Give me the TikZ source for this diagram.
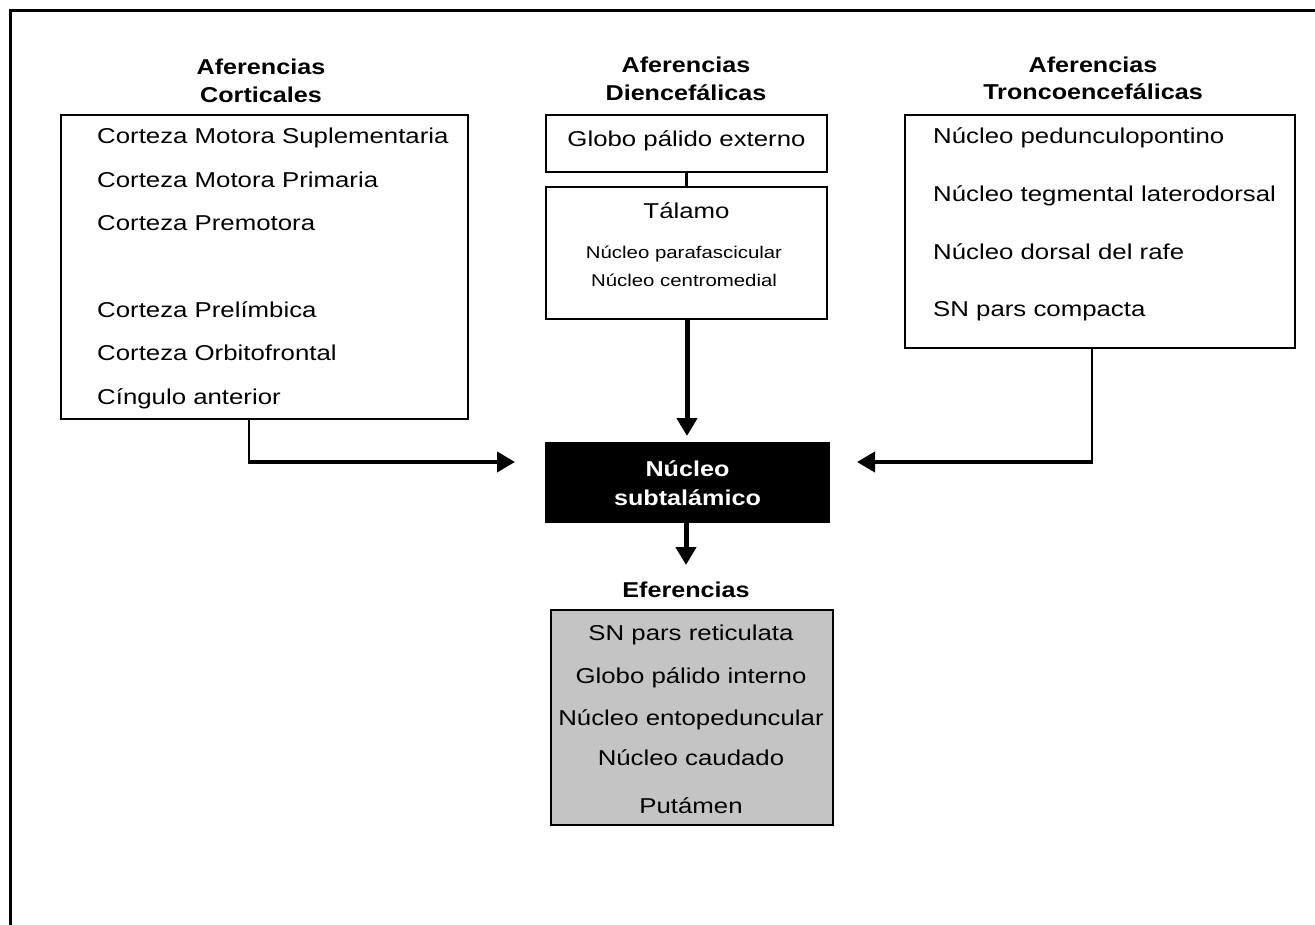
\documentclass[tikz,border=0pt]{standalone}
\usepackage{fontspec}
\setmainfont{Liberation Sans}[FakeStretch=1.2, BoldFeatures={FakeStretch=1.17}]
\usetikzlibrary{arrows.meta}
\definecolor{effgray}{RGB}{196,196,196}
\tikzset{
  box/.style={draw=black, line width=2pt, rectangle, inner sep=0pt},
  txt/.style={inner sep=0pt, font=\fontsize{21.5}{24}\selectfont},
  smalltxt/.style={inner sep=0pt, font=\fontsize{17}{19}\selectfont},
  head/.style={inner sep=0pt, font=\fontsize{21.5}{24}\selectfont\bfseries},
  thinlink/.style={line width=2.2pt},
  thicklink/.style={line width=5pt, -{Triangle[width=20pt,length=18pt]}},
  sidelink/.style={line width=4pt, -{Triangle[width=20pt,length=18pt]}},
}
\begin{document}
\begin{tikzpicture}[x=1pt,y=-1pt]
\useasboundingbox (0,0) rectangle (1315,925);
% outer frame (left and top edges)
\draw[line width=3pt] (10,925) -- (10,11) -- (1315,11);

% headings
\node[head, anchor=base] (hc1) at (261,75) {Aferencias};
\node[head, anchor=base] (hc2) at (261,103) {Corticales};
\node[head, anchor=base] (hd1) at (686,73) {Aferencias};
\node[head, anchor=base] (hd2) at (686,101) {Diencefálicas};
\node[head, anchor=base] (ht1) at (1093,73) {Aferencias};
\node[head, anchor=base] (ht2) at (1093,100) {Troncoencefálicas};

% cortical box
\node[box, minimum width=407pt, minimum height=304pt] (cort) at (264.5,267) {};
\node[txt, anchor=base west] (c1) at (97,144) {Corteza Motora Suplementaria};
\node[txt, anchor=base west] (c2) at (97,188) {Corteza Motora Primaria};
\node[txt, anchor=base west] (c3) at (97,231) {Corteza Premotora};
\node[txt, anchor=base west] (c4) at (97,318) {Corteza Prelímbica};
\node[txt, anchor=base west] (c5) at (97,361) {Corteza Orbitofrontal};
\node[txt, anchor=base west] (c6) at (97,404) {Cíngulo anterior};

% diencephalic boxes
\node[box, minimum width=281pt, minimum height=57pt] (gpe) at (686.5,143.5) {};
\node[txt, anchor=base] (gpet) at (686.5,147) {Globo pálido externo};
\node[box, minimum width=281pt, minimum height=132pt] (tal) at (686.5,253) {};
\node[txt, anchor=base] (talt) at (686.5,219) {Tálamo};
\node[smalltxt, anchor=base] (tal1) at (684,259) {Núcleo parafascicular};
\node[smalltxt, anchor=base] (tal2) at (684,287) {Núcleo centromedial};

% brainstem box
\node[box, minimum width=390pt, minimum height=233pt] (tronco) at (1100,231.5) {};
\node[txt, anchor=base west] (t1) at (933,144) {Núcleo pedunculopontino};
\node[txt, anchor=base west] (t2) at (933,202) {Núcleo tegmental laterodorsal};
\node[txt, anchor=base west] (t3) at (933,260) {Núcleo dorsal del rafe};
\node[txt, anchor=base west] (t4) at (933,317) {SN pars compacta};

% subthalamic nucleus
\node[box, fill=black, minimum width=283pt, minimum height=79pt] (stn) at (687.5,482.5) {};
\node[head, text=white, anchor=base] (stn1) at (687.5,476) {Núcleo};
\node[head, text=white, anchor=base] (stn2) at (687.5,505) {subtalámico};

% efferents
\node[head, anchor=base] (eft) at (686,597) {Eferencias};
\node[box, fill=effgray, minimum width=282pt, minimum height=215pt] (efer) at (692,717.5) {};
\node[txt, anchor=base] (e1) at (691,640) {SN pars reticulata};
\node[txt, anchor=base] (e2) at (691,683) {Globo pálido interno};
\node[txt, anchor=base] (e3) at (691,725) {Núcleo entopeduncular};
\node[txt, anchor=base] (e4) at (691,765) {Núcleo caudado};
\node[txt, anchor=base] (e5) at (691,813) {Putámen};

% connectors
\coordinate (lc) at (249,462);
\coordinate (ltip) at (515,462);
\coordinate (rc) at (1092,462);
\coordinate (rtip) at (857,462);
\coordinate (ttip) at (687,436);
\coordinate (dtip) at (686,565);

\draw[thinlink] (gpe.south) -- (tal.north);
\draw[thicklink] (tal.south -| ttip) -- (ttip);
\draw[thinlink] (cort.south -| lc) -- (lc);
\draw[sidelink] ([xshift=-1pt]lc) -- (ltip);
\draw[thinlink] (tronco.south -| rc) -- (rc);
\draw[sidelink] ([xshift=1pt]rc) -- (rtip);
\draw[thicklink] (stn.south -| dtip) -- (dtip);
\end{tikzpicture}
\end{document}
